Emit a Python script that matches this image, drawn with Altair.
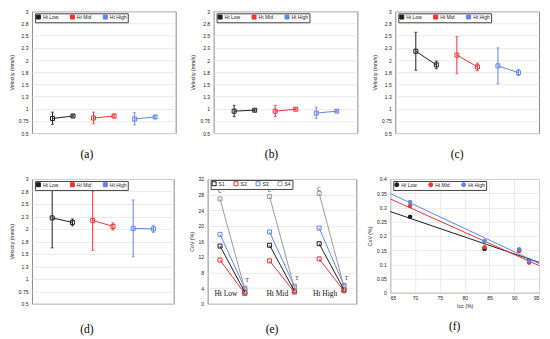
import altair as alt
import pandas as pd

# ---------------- data ----------------
GROUPS = ["Ht Low", "Ht Mid", "Ht High"]
PHASES = ["C", "T"]
XPOS = [1, 2, 3, 4, 5, 6]
VEL_TICKS = [0.5, 0.75, 1, 1.25, 1.5, 1.75, 2, 2.25, 2.5, 2.75, 3]

A_MEAN = [0.80, 0.85, 0.81, 0.85, 0.79, 0.83]
A_LO = [0.68, 0.83, 0.69, 0.81, 0.67, 0.80]
A_HI = [0.93, 0.88, 0.93, 0.89, 0.92, 0.86]

B_MEAN = [0.95, 0.97, 0.95, 0.99, 0.91, 0.95]
B_LO = [0.84, 0.95, 0.84, 0.97, 0.80, 0.93]
B_HI = [1.07, 0.99, 1.07, 1.01, 1.03, 0.97]

C_MEAN = [2.18, 1.90, 2.10, 1.86, 1.88, 1.74]
C_LO = [1.79, 1.82, 1.72, 1.78, 1.51, 1.68]
C_HI = [2.57, 1.98, 2.48, 1.94, 2.25, 1.81]

D_MEAN = [2.22, 2.13, 2.17, 2.05, 2.01, 2.00]
D_LO = [1.62, 2.06, 1.57, 1.98, 1.44, 1.93]
D_HI = [2.82, 2.20, 2.76, 2.12, 2.58, 2.07]

SERIES = ["S1", "S2", "S3", "S4"]
E_C_S1 = [14.8, 15.0, 15.4]
E_C_S2 = [11.2, 11.0, 11.5]
E_C_S3 = [17.8, 18.4, 19.4]
E_C_S4 = [26.9, 27.5, 28.3]
E_T_S1 = [3.0, 3.3, 3.6]
E_T_S2 = [2.6, 3.0, 3.3]
E_T_S3 = [4.0, 4.5, 4.7]
E_T_S4 = [3.7, 4.1, 4.4]
E_TICKS = [0, 4, 8, 12, 16, 20, 24, 28, 32]
E_GROUP_LABEL_X = [1.24, 3.31, 5.24]
E_GROUP_LABEL_Y = [2.6, 2.6, 2.6]
E_C_LABEL_X = [1, 3, 5]
E_C_LABEL_Y = [29.0, 29.2, 29.5]
E_T_LABEL_X = [2.1, 4.1, 6.1]
E_T_LABEL_Y = [6.1, 6.7, 6.5]

F_ICC = [69, 84, 91, 93]
F_LOW = [0.267, 0.154, 0.150, 0.113]
F_MID = [0.305, 0.160, 0.147, 0.106]
F_HIGH = [0.319, 0.182, 0.153, 0.111]
F_YTICKS = [0, 0.05, 0.1, 0.15, 0.2, 0.25, 0.3, 0.35, 0.4]
F_XTICKS = [65, 70, 75, 80, 85, 90, 95]

BLACK = "#1e1e1e"
RED = "#ec3434"
BLUE = "#5f86e6"
GRAY = "#9a9a9a"

CAP_FONT = "Liberation Serif"


def caption(text, dx, offset):
    return alt.TitleParams(text, orient="bottom", anchor="middle", offset=offset, dx=dx,
                           font=CAP_FONT, fontSize=11.5, fontWeight="normal", color="black")


def legend(x, y, cols, colpad, symbol, fill):
    return alt.Legend(title=None, orient="none", legendX=x, legendY=y, direction="horizontal",
                      columns=cols, columnPadding=colpad, symbolType=symbol,
                      symbolFillColor=fill, strokeColor="#444", fillColor="white",
                      padding=1, rowPadding=0)


def velocity_panel(mean, lo, hi, cap, dx, w, h, off):
    df = pd.DataFrame({
        "x": XPOS,
        "group": [g for g in GROUPS for _ in PHASES],
        "phase": PHASES * 3,
        "v": mean, "lo": lo, "hi": hi,
    })
    cscale = alt.Scale(domain=GROUPS, range=[BLACK, RED, BLUE])
    xenc = alt.X("x:Q", scale=alt.Scale(domain=[0, 7]), axis=None)
    yscale = alt.Scale(domain=[0.5, 3])
    yaxis = alt.Axis(values=VEL_TICKS, format="~g")
    ttl = "Velocity (mm/s)"
    base = alt.Chart(df)
    pts = base.mark_point(shape="square", filled=False, size=16, strokeWidth=1, opacity=1).encode(
        x=xenc, y=alt.Y("v:Q", scale=yscale, axis=yaxis, title=ttl),
        color=alt.Color("group:N", scale=cscale, sort=GROUPS,
                        legend=legend(3, 2, 3, 9, "square", "white")))
    rule = base.mark_rule(strokeWidth=1).encode(
        x=xenc, y=alt.Y("lo:Q", scale=yscale, axis=yaxis, title=ttl), y2="hi:Q",
        color=alt.Color("group:N", scale=cscale, legend=None))
    caps = base.transform_fold(["lo", "hi"], as_=["end", "val"]).mark_tick(
        orient="horizontal", size=3, thickness=1).encode(
        x=xenc, y=alt.Y("val:Q", scale=yscale, axis=yaxis, title=ttl),
        color=alt.Color("group:N", scale=cscale, legend=None))
    line = base.mark_line(strokeWidth=1).encode(
        x=xenc, y=alt.Y("v:Q", scale=yscale, axis=yaxis, title=ttl),
        color=alt.Color("group:N", scale=cscale, legend=None), detail="group:N")
    return alt.layer(pts, rule, caps, line).properties(
        width=w, height=h, title=caption(cap, dx, off))


def cov_panel(w, h, off):
    c_vals = [E_C_S1, E_C_S2, E_C_S3, E_C_S4]
    t_vals = [E_T_S1, E_T_S2, E_T_S3, E_T_S4]
    rows = []
    for si, s in enumerate(SERIES):
        for gi, g in enumerate(GROUPS):
            rows.append({"series": s, "group": g, "key": s + g, "x": 2 * gi + 1, "v": c_vals[si][gi]})
            rows.append({"series": s, "group": g, "key": s + g, "x": 2 * gi + 2, "v": t_vals[si][gi]})
    df = pd.DataFrame(rows)
    cscale = alt.Scale(domain=SERIES, range=[BLACK, RED, BLUE, GRAY])
    xenc = alt.X("x:Q", scale=alt.Scale(domain=[0.5, 6.5]), axis=None)
    yscale = alt.Scale(domain=[0, 32])
    yaxis = alt.Axis(values=E_TICKS)
    ttl = "CoV (%)"
    base = alt.Chart(df)
    pts = base.mark_point(shape="square", filled=False, size=16, strokeWidth=1, opacity=1).encode(
        x=xenc, y=alt.Y("v:Q", scale=yscale, axis=yaxis, title=ttl),
        color=alt.Color("series:N", scale=cscale, sort=SERIES,
                        legend=legend(3, 1, 4, 6, "square", "white")))
    line = base.mark_line(strokeWidth=1).encode(
        x=xenc, y=alt.Y("v:Q", scale=yscale, axis=yaxis, title=ttl),
        color=alt.Color("series:N", scale=cscale, legend=None), detail="key:N")
    gl = pd.DataFrame({"x": E_GROUP_LABEL_X, "y": E_GROUP_LABEL_Y, "t": GROUPS})
    cl = pd.DataFrame({"x": E_C_LABEL_X, "y": E_C_LABEL_Y, "t": ["C"] * 3})
    tl = pd.DataFrame({"x": E_T_LABEL_X, "y": E_T_LABEL_Y, "t": ["T"] * 3})
    gtext = alt.Chart(gl).mark_text(font=CAP_FONT, fontSize=7.5, color="#111", baseline="middle").encode(
        x=alt.X("x:Q"), y=alt.Y("y:Q", scale=yscale, axis=yaxis, title=ttl), text="t:N")
    ctext = alt.Chart(cl).mark_text(font=CAP_FONT, fontSize=5.5, color="#111", baseline="middle").encode(
        x=alt.X("x:Q"), y=alt.Y("y:Q", scale=yscale, axis=yaxis, title=ttl), text="t:N")
    ttext = alt.Chart(tl).mark_text(font=CAP_FONT, fontSize=5.5, color="#111", baseline="middle").encode(
        x=alt.X("x:Q"), y=alt.Y("y:Q", scale=yscale, axis=yaxis, title=ttl), text="t:N")
    return alt.layer(pts, line, gtext, ctext, ttext).properties(
        width=w, height=h, title=caption("(e)", -10, off))


def icc_panel(w, h, off):
    df = pd.DataFrame({
        "icc": F_ICC * 3,
        "cov": F_LOW + F_MID + F_HIGH,
        "group": [g for g in GROUPS for _ in F_ICC],
    })
    cscale = alt.Scale(domain=GROUPS, range=[BLACK, RED, BLUE])
    xscale = alt.Scale(domain=[65, 95])
    yscale = alt.Scale(domain=[0, 0.4])
    xaxis = alt.Axis(values=F_XTICKS, labelPadding=3, titlePadding=3)
    yaxis = alt.Axis(values=F_YTICKS, format="~g")
    xenc = alt.X("icc:Q", scale=xscale, axis=xaxis, title="Icc (%)")
    yenc = alt.Y("cov:Q", scale=yscale, axis=yaxis, title="CoV (%)")
    base = alt.Chart(df)
    pts_legend = base.mark_circle(size=18, opacity=1).encode(
        x=xenc, y=yenc,
        color=alt.Color("group:N", scale=cscale, sort=GROUPS,
                        legend=legend(3, 2, 3, 9, "circle", None) if False else
                        alt.Legend(title=None, orient="none", legendX=3, legendY=2,
                                   direction="horizontal", columns=3, columnPadding=9,
                                   symbolType="circle", strokeColor="#444", fillColor="white",
                                   padding=1, rowPadding=0)))
    reg = base.transform_regression("icc", "cov", groupby=["group"], extent=[65, 95]).mark_line(
        strokeWidth=1).encode(x=xenc, y=yenc, color=alt.Color("group:N", scale=cscale, legend=None))
    pts = base.mark_circle(size=18, opacity=1).encode(
        x=xenc, y=yenc, color=alt.Color("group:N", scale=cscale, legend=None))
    return alt.layer(pts_legend, reg, pts).properties(width=w, height=h, title=caption("(f)", -10, off))


pa = velocity_panel(A_MEAN, A_LO, A_HI, "(a)", -17, 144, 122, 13)
pb = velocity_panel(B_MEAN, B_LO, B_HI, "(b)", -14, 144, 122, 13)
pc = velocity_panel(C_MEAN, C_LO, C_HI, "(c)", -10, 144, 122, 13)
pd_ = velocity_panel(D_MEAN, D_LO, D_HI, "(d)", -16, 142, 125, 17)
pe = cov_panel(149, 125, 17)
pf = icc_panel(149, 114, 12)

row1 = alt.hconcat(pa, pb, pc, spacing=38, bounds="flush").resolve_scale(
    color="independent", x="independent", y="independent").resolve_legend(color="independent")
row2 = alt.hconcat(pd_, pe, pf, spacing=34, bounds="flush").resolve_scale(
    color="independent", x="independent", y="independent").resolve_legend(color="independent")

chart = alt.vconcat(row1, row2, spacing=15).resolve_scale(
    color="independent", x="independent", y="independent").resolve_legend(
    color="independent").properties(padding=0).configure_view(
    stroke="#8a8a8a", strokeWidth=1).configure_axis(
    labelFont="Liberation Sans", labelFontSize=5, labelColor="#222",
    titleFont="Liberation Sans", titleFontSize=5.2, titleFontWeight="normal", titleColor="#222",
    ticks=False, domain=False, gridColor="#e4e4e4", gridWidth=0.8,
    labelPadding=4, titlePadding=4).configure_legend(
    labelFont="Liberation Sans", labelFontSize=5, labelColor="#222",
    symbolSize=16, symbolStrokeWidth=1, labelOffset=2, cornerRadius=0)

chart.save("out.html", embed_options={"renderer": "svg", "actions": False})
